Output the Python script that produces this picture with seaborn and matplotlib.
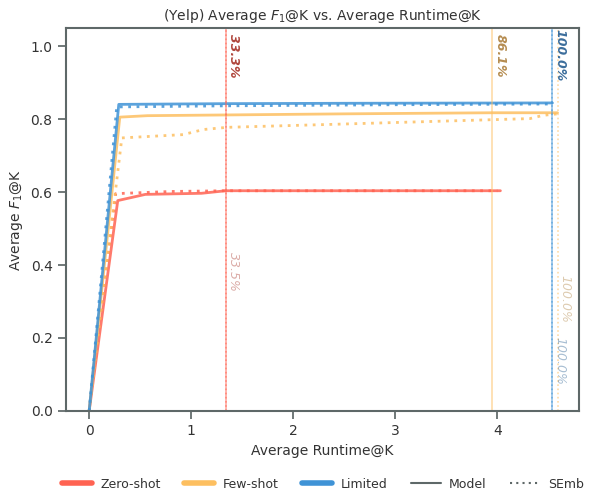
import numpy as np
import pandas as pd
import matplotlib
matplotlib.use("Agg")
import matplotlib.pyplot as plt
import seaborn as sns
from matplotlib.lines import Line2D

settings = ["Zero-shot", "Few-shot", "Limited"]
colors = {"Zero-shot": "#FF6352", "Few-shot": "#FDBF60", "Limited": "#3F93D6"}
text_colors = {"Zero-shot": "#B0463C", "Few-shot": "#B58C50", "Limited": "#3C6E9C"}

# Model (solid) curves
zs_model_x = [0.0, 0.28, 0.55, 1.10, 1.34, 2.0, 3.0, 4.03]
zs_model_y = [0.0, 0.577, 0.594, 0.597, 0.604, 0.604, 0.604, 0.604]
fs_model_x = [0.0, 0.30, 0.57, 1.34, 2.5, 3.95, 4.59]
fs_model_y = [0.0, 0.806, 0.810, 0.812, 0.815, 0.818, 0.818]
lim_model_x = [0.0, 0.29, 1.34, 2.5, 4.54]
lim_model_y = [0.0, 0.841, 0.843, 0.844, 0.845]

# SEmb (dotted) curves
zs_semb_x = [0.0, 0.26, 0.80, 1.34, 2.5, 4.0]
zs_semb_y = [0.0, 0.596, 0.602, 0.604, 0.604, 0.604]
fs_semb_x = [0.0, 0.32, 0.92, 1.12, 1.35, 2.36, 4.32, 4.45, 4.59]
fs_semb_y = [0.0, 0.749, 0.758, 0.772, 0.778, 0.786, 0.802, 0.811, 0.815]
lim_semb_x = [0.0, 0.27, 1.34, 3.0, 4.54]
lim_semb_y = [0.0, 0.834, 0.837, 0.840, 0.842]

# Vertical markers (runtime where best F1 reached)
model_vx = [1.34, 3.95, 4.54]
model_vlabels = ["33.3%", "86.1%", "100.0%"]
semb_vx = [1.34, 4.59, 4.54]
semb_vlabels = ["33.5%", "100.0%", "100.0%"]
semb_label_y = [0.382, 0.308, 0.137]

rows = []
for s, (mx, my, ex, ey) in zip(settings, [
    (zs_model_x, zs_model_y, zs_semb_x, zs_semb_y),
    (fs_model_x, fs_model_y, fs_semb_x, fs_semb_y),
    (lim_model_x, lim_model_y, lim_semb_x, lim_semb_y)]):
    for x, y in zip(mx, my):
        rows.append({"setting": s, "method": "Model", "runtime": x, "f1": y})
    for x, y in zip(ex, ey):
        rows.append({"setting": s, "method": "SEmb", "runtime": x, "f1": y})
df = pd.DataFrame(rows)

sns.set_theme(style="ticks")
plt.rcParams["font.family"] = ["DejaVu Sans"]
spine_c = "#5E6868"
plt.rcParams.update({
    "axes.edgecolor": spine_c, "xtick.color": spine_c, "ytick.color": spine_c,
    "xtick.labelcolor": "#333333", "ytick.labelcolor": "#333333",
    "axes.labelcolor": "#333333", "text.color": "#333333",
    "axes.linewidth": 1.5,
})

fig = plt.figure(figsize=(5.92, 4.95), dpi=100)
ax = fig.add_axes([0.111, 0.170, 0.867, 0.773])

sns.lineplot(data=df, x="runtime", y="f1", hue="setting", style="method",
             palette=colors, hue_order=settings, style_order=["Model", "SEmb"],
             dashes={"Model": "", "SEmb": (1, 2)}, linewidth=2, alpha=0.85,
             sort=False, estimator=None, legend=False, ax=ax)

for i, s in enumerate(settings):
    ax.axvline(model_vx[i], color=colors[s], lw=1.2, alpha=0.55, ls="-")
    ax.axvline(semb_vx[i], color=colors[s], lw=1.2, alpha=0.55, ls=(0, (1, 1.5)))
    ax.text(model_vx[i] + 0.01, 0.975, model_vlabels[i], rotation=270,
            ha="left", va="center", fontsize=9, fontweight="bold",
            fontstyle="italic", color=text_colors[s])
    ax.text(semb_vx[i] + 0.01, semb_label_y[i], semb_vlabels[i], rotation=270,
            ha="left", va="center", fontsize=9, fontstyle="italic",
            color=text_colors[s], alpha=0.45)

ax.set_xlim(-0.23, 4.80)
ax.set_ylim(0, 1.05)
ax.set_xticks([0, 1, 2, 3, 4])
ax.set_yticks([0.0, 0.2, 0.4, 0.6, 0.8, 1.0])
ax.tick_params(labelsize=10)
ax.set_xlabel("Average Runtime@K", fontsize=10)
ax.set_ylabel("Average $F_1$@K", fontsize=10)
ax.set_title("(Yelp) Average $F_1$@K vs. Average Runtime@K", fontsize=10)

handles = [Line2D([], [], color=colors[s], lw=4, solid_capstyle="round") for s in settings]
handles += [Line2D([], [], color=spine_c, lw=1.5, ls="-"),
            Line2D([], [], color=spine_c, lw=1.5, ls=(0, (1, 2)))]
labels = settings + ["Model", "SEmb"]
fig.legend(handles, labels, loc="center", bbox_to_anchor=(0.546, 0.022), ncol=5,
           frameon=False, fontsize=9, handlelength=2.4, handletextpad=0.65,
           columnspacing=1.9)

fig.savefig("out.png", dpi=100)
